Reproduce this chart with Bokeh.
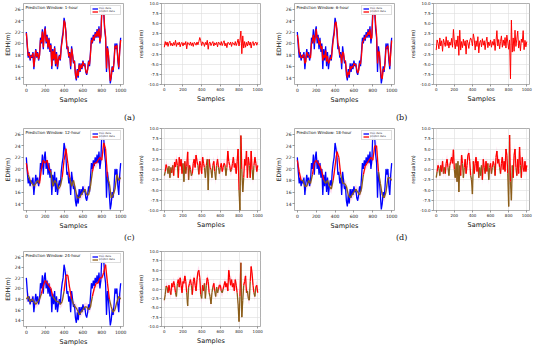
from bokeh.plotting import figure
from bokeh.layouts import row, column
from bokeh.models import Div, Label, FixedTicker, PrintfTickFormatter, Range1d
from bokeh.embed import file_html
from bokeh.resources import INLINE

# ---------------- data ----------------
x_ticks = [0, 200, 400, 600, 800, 1000]
edh_ticks = [14, 16, 18, 20, 22, 24, 26]
res_ticks = [-10.0, -7.5, -5.0, -2.5, 0.0, 2.5, 5.0, 7.5, 10.0]
windows = ["1-hour", "6-hour", "12-hour", "18-hour", "24-hour"]
panel_tags = ["(a)", "(b)", "(c)", "(d)", "(e)"]

# EDH true data, one value every 10 samples
true_edh = [22, 19.5, 17.5, 18.5, 17, 18, 17.5, 18.5, 15.5, 17.5,
            19, 17.5, 18.5, 17, 18, 21, 20, 22.5, 19, 22,
            23, 20, 21.5, 19, 21, 18.5, 20, 15.5, 19, 17,
            19.5, 16, 18.5, 15.5, 17, 18, 17, 19.5, 21, 22,
            24.5, 23.5, 22, 19, 19.5, 17.5, 18.5, 15.5, 19.5, 18,
            16.5, 17, 14.5, 13.5, 15.5, 14, 16.5, 15, 16.5, 15.5,
            17, 16, 16.5, 15, 14.5, 15.5, 17, 16, 18.5, 21,
            20, 21.5, 20.5, 22, 21, 22.5, 21, 23, 20, 21.5,
            26, 26.5, 25.5, 22.5, 21, 15, 19.5, 18, 15.5, 13,
            14, 16, 15, 17, 20, 19, 20, 17, 15.5, 19,
            21]

# predictions, every 10 samples (1h, 6h)
pred_1h = [21.8, 19.8, 17.8, 18.3, 17.3, 17.8, 17.7, 18.3, 15.9, 17.4,
           18.8, 17.7, 18.3, 17.2, 17.9, 20.6, 20.2, 22.1, 19.3, 21.7,
           22.6, 20.3, 21.2, 19.3, 20.7, 18.8, 19.7, 16.0, 18.7, 17.2,
           19.2, 16.4, 18.2, 15.9, 17.2, 17.8, 17.2, 19.2, 20.4, 21.6,
           24.0, 23.6, 21.8, 19.3, 19.3, 17.7, 18.3, 16.0, 19.1, 18.1,
           16.7, 16.9, 14.8, 13.8, 15.3, 14.3, 16.3, 15.2, 16.3, 15.7,
           16.8, 16.2, 16.3, 15.2, 14.7, 15.4, 16.8, 16.3, 18.1, 20.6,
           20.2, 21.2, 20.7, 21.7, 21.2, 22.2, 21.2, 22.6, 20.3, 21.2,
           25.4, 26.0, 25.8, 22.8, 21.3, 15.6, 19.2, 18.2, 15.7, 13.4,
           14.2, 15.8, 15.3, 16.8, 19.6, 19.2, 19.7, 17.3, 15.8, 18.7,
           20.6]
pred_6h = [21.5, 20.5, 18.5, 18, 17.5, 17.5, 18, 18, 16.5, 16.8,
           18.5, 18, 18, 17.5, 17.5, 20, 20.5, 21.5, 20, 21,
           22.5, 21, 21, 19.8, 20.5, 19, 19.5, 17, 18, 17.5,
           18.8, 16.8, 17.8, 16.5, 16.8, 17.5, 17.3, 18.8, 20.5, 21.5,
           23.5, 23.8, 22.5, 20, 19.2, 18, 18, 16.5, 18.5, 18.3,
           17, 16.8, 15.2, 14, 15, 14.5, 16, 15.5, 16, 15.8,
           16.5, 16.3, 16.3, 15.5, 14.8, 15.2, 16.5, 16.4, 17.8, 20.2,
           20.4, 21, 20.8, 21.5, 21.3, 22, 21.5, 22.5, 20.8, 21,
           25, 26.3, 26, 23.5, 21.5, 16.5, 18.5, 18.5, 16.2, 14,
           13.8, 15.5, 15.4, 16.5, 19.2, 19.4, 19.6, 17.8, 16, 18.2,
           20.5]
# predictions, every 20 samples (12h, 18h, 24h)
pred_12h = [21, 19, 18, 17.5, 17, 17.5, 18, 17.5, 20, 21.5,
            21, 21.5, 20, 19.5, 17, 18, 17.5, 16.5, 17, 18.5,
            21.5, 23.5, 21, 18.5, 17, 18, 16.5, 15, 15, 15.5,
            16, 16.5, 15.5, 15.5, 17, 19.5, 21, 21, 21.5, 22,
            21.5, 24.5, 23.5, 18.5, 17.5, 15, 15.5, 16.5, 19, 18,
            18.5]
pred_18h = [21.5, 19.5, 18, 18, 17, 17, 18, 17.5, 19, 21,
            21.5, 21, 20.5, 19.5, 18, 17.5, 18, 17, 16.5, 18,
            20.5, 23, 22, 19, 17.5, 17.5, 17, 15.5, 15, 15.5,
            16, 16.5, 16, 15.5, 16.5, 19, 20.5, 21, 21.5, 22,
            21.5, 24, 24, 19.5, 17.5, 15.5, 15, 16, 18.5, 18.5,
            18]
pred_24h = [18, 18.5, 17.5, 18, 17.5, 17, 17.5, 18, 19, 20.5,
            21.5, 21, 20.5, 20, 18.5, 18, 17.5, 17.5, 17, 17.5,
            19.5, 22.5, 22.5, 20, 18, 17, 16.5, 16, 15, 15.5,
            16, 16.5, 16.5, 16, 16.5, 18.5, 20, 21, 21, 22,
            22, 23, 24.5, 21, 18, 16.5, 15.5, 16, 17.5, 18.5,
            18]

# residuals, every 10 samples
res_1h = [-0.8, 0.6, -0.3, 0.5, -0.6, 0.3, 0.7, -0.4, 0.2, -0.5,
          0.4, -0.3, 0.9, -0.6, 0.3, -0.2, 0.5, -0.7, 0.2, 0.4,
          -0.5, 0.3, -0.2, 0.6, -1.2, 0.4, 0.2, -0.3, 0.5, -0.4,
          0.3, -0.6, 0.4, 0.2, -0.3, 0.5, -0.2, 0.6, 1.6, 0.8,
          -0.4, 0.5, 0.3, -0.6, 0.4, -0.2, 0.9, -1.3, 0.3, 0.5,
          -0.4, 0.2, 0.6, -0.5, 0.3, -0.2, 0.4, -0.7, 0.5, 0.2,
          -0.3, 0.6, -0.4, 0.3, 0.8, -0.5, 0.2, -0.9, 0.4, 0.3,
          -0.2, 0.5, -0.6, 0.4, 0.2, -0.3, 0.6, -0.4, 0.3, 1.2,
          -0.5, 0.8, 3.2, -2.4, 2.0, -1.0, 0.6, -0.8, 0.4, -0.5,
          0.7, -0.3, 0.5, -1.0, 0.3, 0.6, -0.4, 0.2, 0.5, -0.3,
          0.4]
res_6h = [-1.5, 1.0, 0.2, -1.2, 1.5, -0.5, 0.8, -1.8, 1.2, 0.3,
          -0.6, 1.8, -0.4, 0.9, -1.0, 0.5, -0.3, 1.4, -0.8, 3.6,
          0.5, -1.2, 1.0, -0.6, 2.0, -2.8, 3.4, -1.5, 0.6, -0.9,
          1.2, -0.4, 0.8, -2.5, 1.0, 0.3, -1.1, 0.7, 1.5, 0.9,
          -0.5, 2.5, 1.2, -1.5, 0.8, -0.6, 1.8, -2.2, 0.4, 0.9,
          -0.7, 1.3, -0.3, 0.8, -1.4, 0.6, 1.7, -0.9, 0.5, -0.4,
          1.0, -0.8, 0.6, -0.3, 1.2, -1.6, 0.7, 3.3, -0.5, 1.1,
          -1.2, 0.6, 2.0, -0.8, 1.0, -0.4, 1.6, -1.0, 2.2, 0.5,
          -1.3, 1.0, -8.6, 5.9, -2.0, 1.5, -1.8, 3.4, -0.6, 1.2,
          3.2, -1.0, 0.8, -1.7, 1.2, 0.4, 3.3, -1.4, 0.9, -0.7,
          0.6]
res_12h = [-1.5, -0.5, 1.2, 0.4, -1.0, 0.8, -2.0, 0.5, -0.8, 1.0,
           -1.5, 1.8, 0.6, 2.5, 1.0, -2.0, 3.0, 0.8, 2.5, -1.0,
           1.5, -3.0, 2.0, -1.0, 0.8, 4.3, -2.5, 1.0, 0.0, -1.5,
           -1.0, 1.5, 2.5, 0.5, 3.5, 2.0, 1.0, -1.2, 2.0, 1.0,
           -1.0, 3.0, 1.5, 0.5, -2.0, 1.0, 2.5, -5.0, 2.5, 0.5,
           0.0, -2.0, 1.0, 2.0, -0.5, -2.5, 1.0, 2.5, 0.5, -1.0,
           0.5, 1.5, -0.5, 0.5, 1.5, 1.0, -1.5, 0.5, 4.5, 2.0,
           1.0, -0.5, 0.0, 1.5, 3.0, 0.5, 1.5, -1.0, 2.0, 5.0,
           -5.0, -10.0, 8.3, 0.0, -5.5, -2.0, 2.5, 1.0, 4.5, -2.0,
           3.0, 1.0, -2.0, 4.5, 0.0, -2.5, 1.0, 3.0, 1.5, -0.5,
           1.0]
res_18h = [-2.0, -0.5, 1.0, 0.3, -1.5, 1.0, -0.5, 2.0, -1.0, 0.5,
           -1.0, 1.5, 2.5, 0.5, -1.5, 1.0, 2.0, 3.0, 1.5, 4.8,
           0.0, -2.0, 1.5, -3.0, 2.0, -5.5, 1.0, -1.5, 3.5, 1.5,
           -2.0, 0.5, 2.5, -1.0, 1.0, 3.5, 4.0, 2.0, -1.5, -2.5,
           -6.0, 2.0, -1.0, 1.5, 3.0, -0.5, 2.0, -2.0, 0.5, -1.5,
           1.0, -2.5, 2.5, 0.5, -1.0, 2.0, -0.5, 1.5, -2.5, 0.5,
           1.5, -1.0, 0.5, 2.0, 1.0, -1.5, 3.0, 4.5, 1.5, 2.5,
           0.5, -1.0, 1.5, 3.0, 0.0, 2.0, -0.5, 5.0, 3.5, -1.0,
           -9.0, 8.4, -3.0, -7.5, 1.0, -2.0, 3.5, 5.0, 0.5, -1.5,
           2.5, -1.0, 5.5, 1.0, -2.0, 3.0, 0.5, -0.5, 2.0, -0.5,
           1.0]
res_24h = [-3.0, -1.5, 0.8, 0.5, -1.0, 1.0, -0.5, -1.5, 1.5, 0.5,
           2.0, 1.0, -1.0, -2.0, 1.5, 2.5, 0.5, 3.0, 1.0, -1.0,
           2.0, 1.5, 3.5, 2.0, -1.0, -4.5, 0.5, 1.5, 2.5, 1.0,
           -1.5, 2.0, 3.0, 1.0, -0.5, 2.5, 4.5, 5.0, 3.0, -1.5,
           -2.5, 1.0, -0.5, 1.5, -2.5, 1.0, 3.0, 2.0, -1.0, -2.0,
           -4.0, -1.0, 0.5, 1.5, -0.5, -2.0, 0.5, -1.0, 0.0, 1.0,
           1.0, -0.5, -1.0, 0.0, 1.0, 2.0, 0.5, 1.5, -0.5, 5.0,
           3.0, 1.0, 2.5, 0.5, 1.5, -0.5, 2.5, 1.0, -1.0, -4.0,
           -8.7, -2.0, 7.0, -7.5, -3.0, 1.0, 2.0, 3.5, -1.0, -0.5,
           -2.5, -3.0, 2.0, 6.0, 4.0, 1.0, -1.0, -2.0, 0.5, 1.0,
           -1.0]

preds = [pred_1h, pred_6h, pred_12h, pred_18h, pred_24h]
resids = [res_1h, res_6h, res_12h, res_18h, res_24h]

# ---------------- styling ----------------
BLUE = "#0000ff"
RED = "#ff0000"
BROWN = "#8b5e1a"
PINK = "#ff8cc6"
FONT = "DejaVu Sans"
SERIF = "DejaVu Serif"


def xs_for(arr, total=1000):
    step = total / (len(arr) - 1)
    return [i * step for i in range(len(arr))]


def style(p, ylabel, yticks, res=False):
    p.outline_line_color = "#9a9a9a"
    p.outline_line_width = 0.8
    p.background_fill_color = "white"
    p.xaxis.ticker = FixedTicker(ticks=x_ticks)
    p.yaxis.ticker = FixedTicker(ticks=yticks)
    if res:
        p.yaxis.formatter = PrintfTickFormatter(format="%.1f")
        p.grid.grid_line_color = "#dddddd"
        p.grid.grid_line_width = 0.6
    else:
        p.grid.grid_line_color = None
    for ax in (p.xaxis[0], p.yaxis[0]):
        ax.axis_line_color = None
        ax.major_tick_out = 2
        ax.major_tick_in = 0
        ax.major_tick_line_color = "#555555"
        ax.major_tick_line_width = 0.6
        ax.minor_tick_line_color = None
        ax.major_label_text_font = FONT
        ax.major_label_text_font_size = "4px" if res else "4.5px"
        ax.major_label_text_color = "#222222"
        ax.major_label_standoff = 1
        ax.axis_label_text_font = FONT
        ax.axis_label_text_font_style = "normal"
        ax.axis_label_text_color = "#111111"
        ax.axis_label_standoff = 1
    p.xaxis.axis_label = "Samples"
    p.xaxis.axis_label_text_font_size = "6.5px"
    p.yaxis.axis_label = ylabel
    p.yaxis.axis_label_text_font_size = "5px" if res else "6px"


def make_fig(w, bl, br, bt, fh, bb, yr):
    return figure(width=w, height=bt + fh + bb, x_range=Range1d(-30, 1030),
                  y_range=Range1d(*yr), min_border_left=bl, min_border_right=br,
                  min_border_top=bt, min_border_bottom=bb, title=None,
                  output_backend="svg", toolbar_location=None)


def colored_segments(p, xs, ys, thr, **kw):
    x0 = xs[:-1]
    x1 = xs[1:]
    y0 = ys[:-1]
    y1 = ys[1:]
    cols = [RED if (a + b) / 2 >= thr else BROWN for a, b in zip(y0, y1)]
    return p.segment(x0, y0, x1, y1, line_color=cols, line_width=1.3, **kw)


def edh_panel(i, w, bl, br, bt, fh, bb):
    p = make_fig(w, bl, br, bt, fh, bb, (12.8, 27.0))
    xt = xs_for(true_edh)
    pr = preds[i]
    xp = xs_for(pr)
    if i < 2:
        p.line(xt, true_edh, line_color=BLUE, line_width=1.3, legend_label="true data")
        p.line(xp, pr, line_color=RED, line_width=1.3, legend_label="predict data")
    else:
        p.varea(x=xp, y1=[v - 0.8 for v in pr], y2=[v + 0.8 for v in pr],
                fill_color=PINK, fill_alpha=0.3)
        p.line(xt, true_edh, line_color=BLUE, line_width=1.3, legend_label="true data")
        mean_v = sum(pr) / len(pr)
        colored_segments(p, xp, pr, mean_v, legend_label="predict data")
    style(p, "EDH(m)", edh_ticks)
    lg = p.legend[0]
    lg.location = "top_right"
    lg.label_text_font = FONT
    lg.label_text_font_size = "2.6px"
    lg.label_height = 3
    lg.glyph_height = 3
    lg.glyph_width = 6
    lg.label_standoff = 1
    lg.spacing = 0
    lg.padding = 1
    lg.margin = 2
    lg.border_line_color = "#bbbbbb"
    lg.border_line_width = 0.5
    p.add_layout(Label(x=-10, y=26.8, text="Prediction Window: " + windows[i],
                       text_font=FONT, text_font_size="4px", text_baseline="top",
                       text_color="#111111"))
    return p


def res_panel(i, w, bl, br, bt, fh, bb):
    p = make_fig(w, bl, br, bt, fh, bb, (-10.0, 10.0))
    r = resids[i]
    xr = xs_for(r)
    if i < 2:
        p.line(xr, r, line_color=RED, line_width=1.0)
    else:
        p.varea(x=xr, y1=[v - 1.2 for v in r], y2=[v + 1.2 for v in r],
                fill_color=PINK, fill_alpha=0.3)
        colored_segments(p, xr, r, 0.0)
    style(p, "residual(m)", res_ticks, res=True)
    return p


def tag_row(items, height, top):
    spans = "".join(
        '<span style="position:absolute;left:%dpx;top:%dpx;font-family:\'%s\';'
        'font-size:8px;color:#111;">%s</span>' % (x, top, SERIF, t) for x, t in items)
    html = '<div style="position:relative;width:534px;height:%dpx;">%s</div>' % (height, spans)
    return Div(text=html, width=534, height=height, margin=0)


def panel_row(k, bt, fh, bb):
    figs = []
    figs.append(edh_panel(k, 135, 16, 12, bt, fh, bb))
    figs.append(res_panel(k, 136, 18, 11, bt, fh, bb))
    if k + 1 < len(windows):
        figs.append(edh_panel(k + 1, 136, 16, 13, bt, fh, bb))
        figs.append(res_panel(k + 1, 127, 17, 5, bt, fh, bb))
    return row(*figs, spacing=0)


r1 = panel_row(0, 3, 88, 15)
t1 = tag_row([(124, panel_tags[0]), (396, panel_tags[1])], 18, 6)
r2 = panel_row(2, 4, 87, 17)
t2 = tag_row([(124, panel_tags[2]), (396, panel_tags[3])], 15, 0)
r3 = panel_row(4, 4, 84, 13)

layout = column(r1, t1, r2, t2, r3, spacing=0)

open("out.html", "w").write(file_html(layout, INLINE))
